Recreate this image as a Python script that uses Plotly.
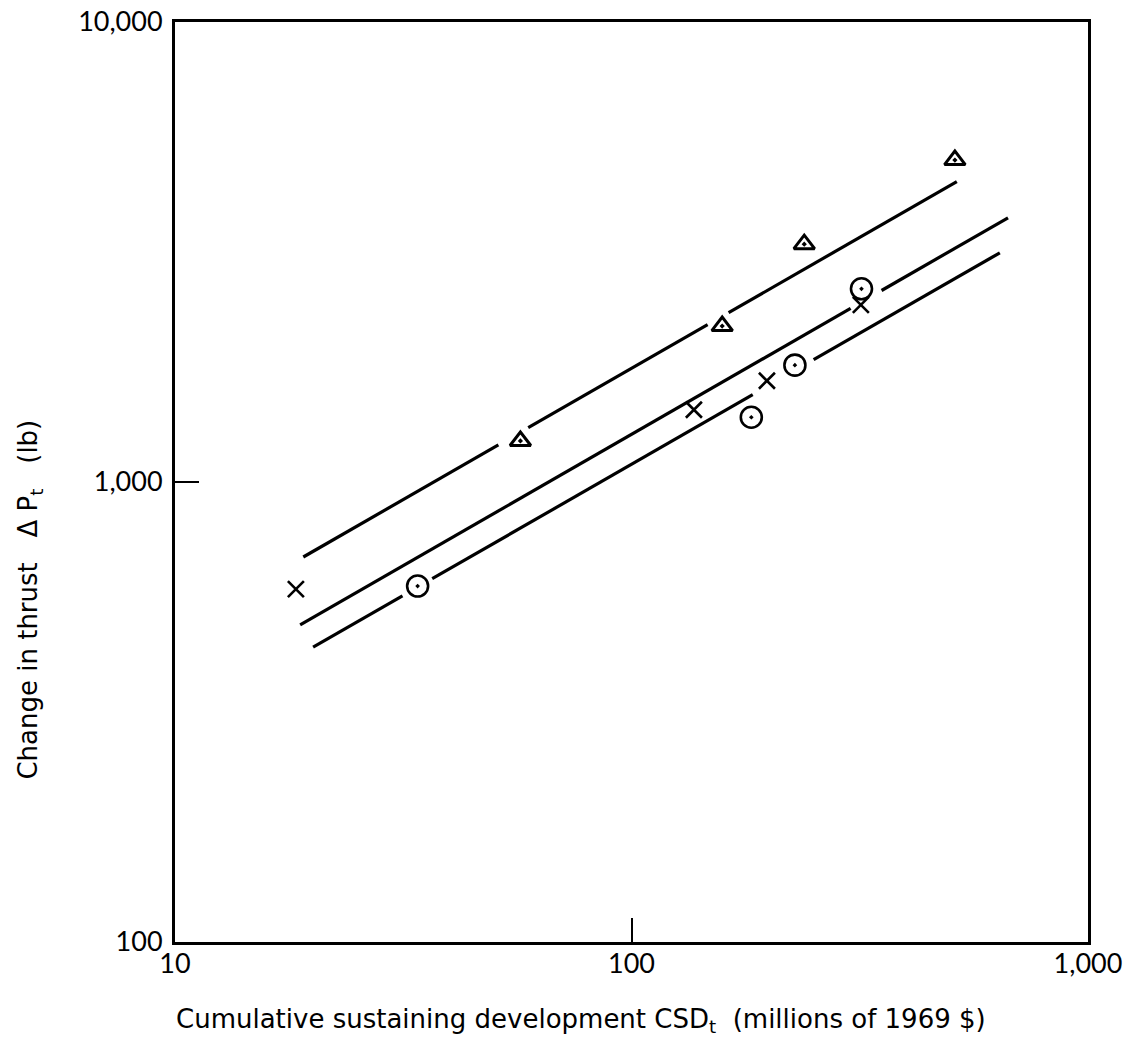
import plotly.graph_objects as go

# ---- data ----
tri_x = [57.1, 158, 239, 511]
tri_y = [1228, 2183, 3289, 5010]

cross_x = [18.4, 137, 198, 318]
cross_y = [585, 1436, 1660, 2427]

circ_x = [34.0, 183, 228, 319]
circ_y = [594, 1383, 1795, 2630]

# fitted lines (segments, broken around markers)
tri_line_x = [19.1, 51.1, None, 59.4, 146.8, None, 163.2, 516]
tri_line_y = [687, 1204, None, 1313, 2198, None, 2334, 4498]

mid_line_x = [18.8, 302, None, 353, 668]
mid_line_y = [489, 2385, None, 2608, 3753]

low_line_x = [20.07, 31.5, None, 36.6, 184.3, None, 250.6, 641]
low_line_y = [437.5, 565.6, None, 616.3, 1548, None, 1845, 3150]

x_ticks = [10, 100, 1000]
x_ticktext = ["10", "100", "1,000"]
y_ticks = [100, 1000, 10000]
y_ticktext = ["100", "1,000", "10,000"]

TICKFONT = "Lato"
TITLEFONT = "DejaVu Sans"

fig = go.Figure()

for lx, ly in [(tri_line_x, tri_line_y), (mid_line_x, mid_line_y), (low_line_x, low_line_y)]:
    fig.add_trace(go.Scatter(x=lx, y=ly, mode="lines",
                             line=dict(color="black", width=3.2),
                             connectgaps=False, showlegend=False, hoverinfo="skip"))

fig.add_trace(go.Scatter(x=tri_x, y=tri_y, mode="markers", showlegend=False,
                         marker=dict(symbol="triangle-up-open-dot", size=18, color="black",
                                     line=dict(color="black", width=3))))
fig.add_trace(go.Scatter(x=cross_x, y=cross_y, mode="markers", showlegend=False,
                         marker=dict(symbol="x-thin-open", size=16, color="black",
                                     line=dict(color="black", width=2.6))))
fig.add_trace(go.Scatter(x=circ_x, y=circ_y, mode="markers", showlegend=False,
                         marker=dict(symbol="circle-open-dot", size=21, color="black",
                                     line=dict(color="black", width=2.6))))

axis_common = dict(type="log", showgrid=False, zeroline=False, showline=True,
                   linecolor="black", linewidth=3, mirror=True, automargin=False,
                   ticks="inside", ticklen=24, tickwidth=2, tickcolor="black",
                   tickfont=dict(family=TICKFONT, size=27, color="black"))

fig.update_xaxes(range=[1, 3], tickvals=x_ticks, ticktext=x_ticktext,
                 ticklabelstandoff=-4, **axis_common)
fig.update_yaxes(range=[2, 4], tickvals=y_ticks, ticktext=y_ticktext,
                 ticklabelstandoff=4, **axis_common)

NB = "\u00a0"
fig.add_annotation(text="Cumulative sustaining development CSD<sub>t</sub>" + NB * 2 + "(millions of 1969 $)",
                   xref="paper", yref="paper", x=0.445, y=-0.085,
                   xanchor="center", yanchor="middle", showarrow=False,
                   font=dict(family=TITLEFONT, size=26, color="black"))
fig.add_annotation(text="Change" + NB + "in" + NB + "thrust" + NB * 3 + "\u0394" + NB + "P<sub>t</sub>" + NB * 3 + "(lb)",
                   xref="paper", yref="paper", x=-0.159, y=0.372,
                   xanchor="center", yanchor="middle", textangle=-90, showarrow=False,
                   font=dict(family=TITLEFONT, size=26, color="black"))

fig.update_layout(width=1127, height=1046,
                  margin=dict(l=175, r=39, t=22, b=104, autoexpand=False),
                  paper_bgcolor="white", plot_bgcolor="white")

fig.write_html("out.html")
